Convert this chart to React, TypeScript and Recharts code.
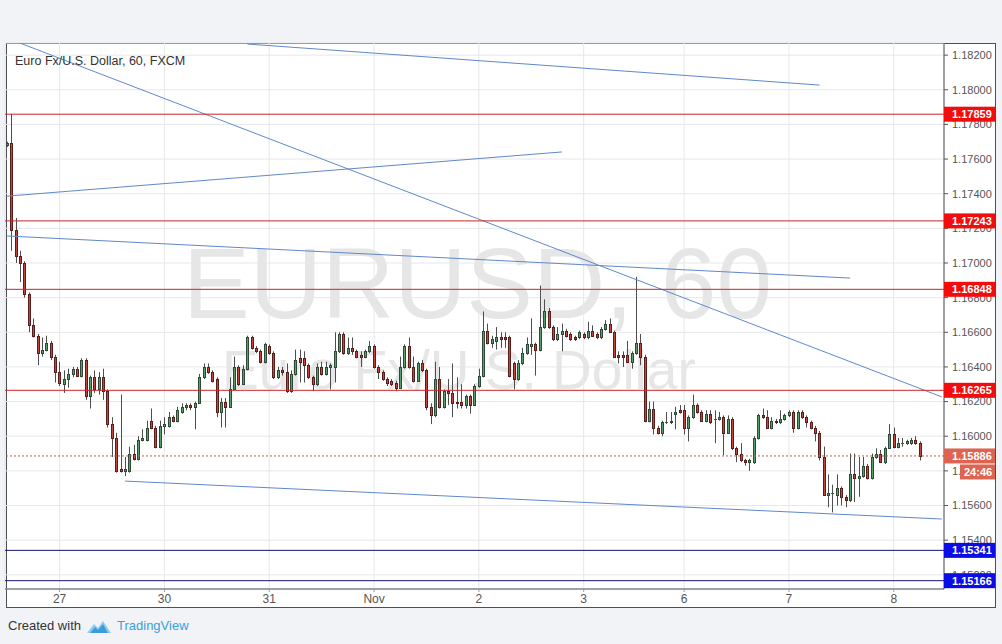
import { Bar, CartesianGrid, ComposedChart, ReferenceLine, XAxis, YAxis } from "recharts";

// EUR/USD hourly bars (FXCM): [open, high, low, close]
const candles: [number, number, number, number][] = [
  [1.1768, 1.1770, 1.1767, 1.1769],
  [1.1769, 1.1786, 1.1707, 1.1719],
  [1.1719, 1.1726, 1.1700, 1.1704],
  [1.1704, 1.1707, 1.1689, 1.1700],
  [1.1700, 1.1701, 1.1680, 1.1682],
  [1.1682, 1.1683, 1.1660, 1.1664],
  [1.1664, 1.1668, 1.1657, 1.1658],
  [1.1658, 1.1659, 1.1641, 1.1648],
  [1.1648, 1.1657, 1.1646, 1.1650],
  [1.1650, 1.1658, 1.1649, 1.1654],
  [1.1654, 1.1655, 1.1644, 1.1646],
  [1.1646, 1.1647, 1.1631, 1.1637],
  [1.1637, 1.1643, 1.1629, 1.1631],
  [1.1630, 1.1638, 1.1625, 1.1633],
  [1.1633, 1.1639, 1.1628, 1.1636],
  [1.1636, 1.1640, 1.1634, 1.1639],
  [1.1639, 1.1640, 1.1635, 1.1635],
  [1.1635, 1.1645, 1.1634, 1.1644],
  [1.1644, 1.1645, 1.1621, 1.1623],
  [1.1623, 1.1635, 1.1616, 1.1634],
  [1.1634, 1.1638, 1.1625, 1.1627],
  [1.1627, 1.1637, 1.1624, 1.1634],
  [1.1634, 1.1639, 1.1621, 1.1626],
  [1.1626, 1.1627, 1.1605, 1.1607],
  [1.1607, 1.1611, 1.1588, 1.1599],
  [1.1599, 1.1602, 1.1579, 1.1580],
  [1.1581, 1.1624, 1.1579, 1.1580],
  [1.1580, 1.1588, 1.1577, 1.1581],
  [1.1580, 1.1594, 1.1579, 1.1590],
  [1.1590, 1.1595, 1.1586, 1.1587],
  [1.1587, 1.1600, 1.1586, 1.1598],
  [1.1598, 1.1604, 1.1597, 1.1599],
  [1.1598, 1.1609, 1.1597, 1.1605],
  [1.1609, 1.1616, 1.1604, 1.1605],
  [1.1605, 1.1606, 1.1593, 1.1594],
  [1.1594, 1.1609, 1.1593, 1.1606],
  [1.1606, 1.1611, 1.1601, 1.1607],
  [1.1606, 1.1614, 1.1605, 1.1611],
  [1.1611, 1.1612, 1.1608, 1.1609],
  [1.1609, 1.1617, 1.1608, 1.1615],
  [1.1614, 1.1619, 1.1613, 1.1617],
  [1.1617, 1.1619, 1.1615, 1.1618],
  [1.1618, 1.1619, 1.1615, 1.1617],
  [1.1617, 1.1620, 1.1604, 1.1619],
  [1.1619, 1.1636, 1.1619, 1.1634],
  [1.1634, 1.1642, 1.1633, 1.1640],
  [1.1640, 1.1642, 1.1636, 1.1637],
  [1.1637, 1.1638, 1.1631, 1.1632],
  [1.1633, 1.1634, 1.1611, 1.1614],
  [1.1614, 1.1622, 1.1605, 1.1620],
  [1.1620, 1.1622, 1.1605, 1.1617],
  [1.1617, 1.1634, 1.1617, 1.1627],
  [1.1627, 1.1646, 1.1627, 1.1640],
  [1.1640, 1.1641, 1.1629, 1.1630],
  [1.1630, 1.1641, 1.1630, 1.1639],
  [1.1639, 1.1658, 1.1638, 1.1657],
  [1.1657, 1.1658, 1.1650, 1.1651],
  [1.1651, 1.1652, 1.1648, 1.1649],
  [1.1649, 1.1650, 1.1642, 1.1643],
  [1.1643, 1.1654, 1.1642, 1.1653],
  [1.1652, 1.1653, 1.1647, 1.1648],
  [1.1648, 1.1649, 1.1633, 1.1634],
  [1.1634, 1.1640, 1.1633, 1.1638],
  [1.1638, 1.1640, 1.1635, 1.1637],
  [1.1637, 1.1642, 1.1625, 1.1626],
  [1.1626, 1.1638, 1.1625, 1.1636],
  [1.1636, 1.1650, 1.1635, 1.1644],
  [1.1645, 1.1650, 1.1631, 1.1643],
  [1.1645, 1.1649, 1.1631, 1.1641],
  [1.1641, 1.1642, 1.1633, 1.1634],
  [1.1634, 1.1635, 1.1626, 1.1630],
  [1.1630, 1.1642, 1.1629, 1.1640],
  [1.1640, 1.1643, 1.1635, 1.1636],
  [1.1636, 1.1643, 1.1635, 1.1640],
  [1.1640, 1.1642, 1.1627, 1.1641],
  [1.1640, 1.1660, 1.1631, 1.1649],
  [1.1649, 1.1660, 1.1648, 1.1659],
  [1.1659, 1.1660, 1.1647, 1.1648],
  [1.1648, 1.1657, 1.1647, 1.1651],
  [1.1651, 1.1657, 1.1647, 1.1649],
  [1.1649, 1.1650, 1.1645, 1.1646],
  [1.1647, 1.1649, 1.1640, 1.1646],
  [1.1646, 1.1650, 1.1645, 1.1649],
  [1.1649, 1.1655, 1.1648, 1.1652],
  [1.1652, 1.1653, 1.1639, 1.1640],
  [1.1640, 1.1641, 1.1633, 1.1637],
  [1.1637, 1.1638, 1.1632, 1.1633],
  [1.1633, 1.1634, 1.1629, 1.1631],
  [1.1632, 1.1633, 1.1629, 1.1630],
  [1.1631, 1.1632, 1.1626, 1.1628],
  [1.1628, 1.1646, 1.1628, 1.1640],
  [1.1640, 1.1653, 1.1639, 1.1652],
  [1.1652, 1.1657, 1.1639, 1.1640],
  [1.1640, 1.1646, 1.1631, 1.1632],
  [1.1632, 1.1643, 1.1632, 1.1642],
  [1.1642, 1.1644, 1.1637, 1.1638],
  [1.1638, 1.1639, 1.1615, 1.1617],
  [1.1617, 1.1619, 1.1607, 1.1612],
  [1.1612, 1.1643, 1.1611, 1.1633],
  [1.1633, 1.1640, 1.1616, 1.1617],
  [1.1617, 1.1627, 1.1616, 1.1626],
  [1.1626, 1.1633, 1.1618, 1.1625],
  [1.1625, 1.1642, 1.1611, 1.1619],
  [1.1620, 1.1634, 1.1616, 1.1619],
  [1.1620, 1.1630, 1.1616, 1.1618],
  [1.1618, 1.1624, 1.1616, 1.1623],
  [1.1623, 1.1624, 1.1613, 1.1618],
  [1.1618, 1.1630, 1.1618, 1.1629],
  [1.1629, 1.1639, 1.1628, 1.1635],
  [1.1635, 1.1672, 1.1634, 1.1661],
  [1.1661, 1.1665, 1.1653, 1.1654],
  [1.1654, 1.1658, 1.1651, 1.1656],
  [1.1655, 1.1663, 1.1650, 1.1657],
  [1.1657, 1.1660, 1.1651, 1.1656],
  [1.1657, 1.1660, 1.1651, 1.1656],
  [1.1657, 1.1658, 1.1634, 1.1635],
  [1.1642, 1.1643, 1.1627, 1.1633],
  [1.1633, 1.1644, 1.1632, 1.1642],
  [1.1642, 1.1651, 1.1641, 1.1648],
  [1.1648, 1.1657, 1.1647, 1.1653],
  [1.1652, 1.1668, 1.1647, 1.1653],
  [1.1653, 1.1654, 1.1635, 1.1650],
  [1.1650, 1.1687, 1.1649, 1.1663],
  [1.1663, 1.1679, 1.1662, 1.1672],
  [1.1672, 1.1674, 1.1662, 1.1663],
  [1.1663, 1.1664, 1.1655, 1.1656],
  [1.1656, 1.1663, 1.1655, 1.1659],
  [1.1659, 1.1665, 1.1649, 1.1661],
  [1.1661, 1.1662, 1.1657, 1.1658],
  [1.1659, 1.1660, 1.1655, 1.1656],
  [1.1657, 1.1658, 1.1655, 1.1656],
  [1.1657, 1.1661, 1.1656, 1.1660],
  [1.1659, 1.1660, 1.1656, 1.1657],
  [1.1657, 1.1666, 1.1656, 1.1661],
  [1.1661, 1.1664, 1.1658, 1.1658],
  [1.1659, 1.1660, 1.1656, 1.1657],
  [1.1657, 1.1663, 1.1656, 1.1662],
  [1.1662, 1.1667, 1.1661, 1.1665],
  [1.1665, 1.1668, 1.1660, 1.1660],
  [1.1660, 1.1661, 1.1646, 1.1646],
  [1.1647, 1.1649, 1.1642, 1.1646],
  [1.1647, 1.1649, 1.1640, 1.1646],
  [1.1647, 1.1655, 1.1643, 1.1643],
  [1.1643, 1.1649, 1.1639, 1.1648],
  [1.1648, 1.1692, 1.1647, 1.1654],
  [1.1654, 1.1659, 1.1641, 1.1646],
  [1.1646, 1.1647, 1.1608, 1.1609],
  [1.1609, 1.1620, 1.1608, 1.1616],
  [1.1616, 1.1620, 1.1601, 1.1605],
  [1.1605, 1.1606, 1.1601, 1.1602],
  [1.1602, 1.1609, 1.1600, 1.1608],
  [1.1608, 1.1614, 1.1607, 1.1608],
  [1.1608, 1.1614, 1.1607, 1.1609],
  [1.1613, 1.1617, 1.1604, 1.1614],
  [1.1615, 1.1618, 1.1613, 1.1614],
  [1.1615, 1.1618, 1.1601, 1.1605],
  [1.1605, 1.1612, 1.1597, 1.1611],
  [1.1611, 1.1624, 1.1610, 1.1618],
  [1.1618, 1.1619, 1.1613, 1.1614],
  [1.1614, 1.1615, 1.1609, 1.1609],
  [1.1609, 1.1615, 1.1608, 1.1613],
  [1.1613, 1.1615, 1.1607, 1.1608],
  [1.1610, 1.1615, 1.1596, 1.1610],
  [1.1610, 1.1614, 1.1609, 1.1611],
  [1.1611, 1.1612, 1.1589, 1.1602],
  [1.1602, 1.1612, 1.1602, 1.1610],
  [1.1610, 1.1611, 1.1592, 1.1593],
  [1.1593, 1.1594, 1.1585, 1.1590],
  [1.1590, 1.1596, 1.1585, 1.1586],
  [1.1586, 1.1587, 1.1583, 1.1585],
  [1.1585, 1.1587, 1.1580, 1.1586],
  [1.1585, 1.1600, 1.1584, 1.1599],
  [1.1599, 1.1613, 1.1598, 1.1612],
  [1.1612, 1.1616, 1.1610, 1.1611],
  [1.1611, 1.1615, 1.1605, 1.1605],
  [1.1605, 1.1611, 1.1604, 1.1609],
  [1.1609, 1.1610, 1.1607, 1.1608],
  [1.1608, 1.1615, 1.1607, 1.1610],
  [1.1610, 1.1613, 1.1609, 1.1612],
  [1.1612, 1.1615, 1.1611, 1.1614],
  [1.1614, 1.1615, 1.1602, 1.1605],
  [1.1605, 1.1615, 1.1604, 1.1614],
  [1.1614, 1.1615, 1.1610, 1.1611],
  [1.1611, 1.1612, 1.1605, 1.1608],
  [1.1608, 1.1609, 1.1604, 1.1605],
  [1.1605, 1.1606, 1.1597, 1.1602],
  [1.1602, 1.1603, 1.1586, 1.1588],
  [1.1588, 1.1594, 1.1566, 1.1566],
  [1.1566, 1.1578, 1.1559, 1.1567],
  [1.1567, 1.1572, 1.1556, 1.1567],
  [1.1566, 1.1578, 1.1560, 1.1570],
  [1.1570, 1.1571, 1.1560, 1.1565],
  [1.1565, 1.1566, 1.1559, 1.1563],
  [1.1563, 1.1590, 1.1562, 1.1578],
  [1.1578, 1.1590, 1.1562, 1.1576],
  [1.1576, 1.1588, 1.1565, 1.1577],
  [1.1577, 1.1588, 1.1576, 1.1583],
  [1.1583, 1.1584, 1.1575, 1.1576],
  [1.1576, 1.1590, 1.1575, 1.1588],
  [1.1588, 1.1593, 1.1587, 1.1590],
  [1.1590, 1.1592, 1.1585, 1.1585],
  [1.1585, 1.1594, 1.1584, 1.1593],
  [1.1593, 1.1607, 1.1593, 1.1601],
  [1.1601, 1.1605, 1.1593, 1.1594],
  [1.1594, 1.1599, 1.1593, 1.1596],
  [1.1596, 1.1599, 1.1594, 1.1596],
  [1.1596, 1.1598, 1.1595, 1.1597],
  [1.1596, 1.1599, 1.1595, 1.1598],
  [1.1598, 1.1600, 1.1595, 1.1596],
  [1.1596, 1.1597, 1.1586, 1.15886],
];

// 215 hourly slots on the time scale, the last few are empty space
const SLOTS = 215;

const dayLabels = [
  { index: 12, label: "27" },
  { index: 36, label: "30" },
  { index: 60, label: "31" },
  { index: 84, label: "Nov" },
  { index: 108, label: "2" },
  { index: 132, label: "3" },
  { index: 155, label: "6" },
  { index: 179, label: "7" },
  { index: 203, label: "8" },
];

const priceTicks = [
  1.152, 1.154, 1.156, 1.158, 1.16, 1.162, 1.164, 1.166, 1.168, 1.17, 1.172, 1.174, 1.176, 1.178,
  1.18, 1.182,
];
const priceDomain: [number, number] = [1.15118, 1.1827];

const redLevels = [1.17859, 1.17243, 1.16848, 1.16265];
const blueLevels = [1.15341, 1.15166];
const lastPrice = 1.15886;
const countdown = "24:46";

// hand-drawn trend lines: [slot, price] end points
const trendLines: { from: [number, number]; to: [number, number] }[] = [
  { from: [55, 1.18264], to: [186, 1.18027] },
  { from: [0, 1.18298], to: [214, 1.16227] },
  { from: [0, 1.17386], to: [127, 1.17641] },
  { from: [0, 1.17156], to: [193, 1.16913] },
  { from: [27, 1.15741], to: [214, 1.15522] },
];

const FONT = '"Liberation Sans", Arial, sans-serif';
const UP_FILL = "#57a06c";
const UP_EDGE = "#2c4a36";
const DOWN_FILL = "#c2463f";
const DOWN_EDGE = "#5a1d19";
const WICK = "#4e4e4e";
const RED_LINE = "#c8262a";
const RED_TAG = "#f20d0d";
const NAVY_LINE = "#14146e";
const BLUE_TAG = "#0c0ce6";
const LAST_TAG = "#dd6450";
const TREND = "#6088cc";
const FRAME = "#4d4f55";

const CHART_MARGIN = { top: 43, right: 7, bottom: 37, left: 5 };

const rows = Array.from({ length: SLOTS }, (_, i) => {
  const c = candles[i];
  return c
    ? { i, range: [c[2], c[1]], o: c[0], h: c[1], l: c[2], c: c[3] }
    : { i, range: null };
});

function Candle(props: any) {
  const { x, y, width, height, payload } = props;
  if (!payload || payload.o == null) return null;
  const { o, h, l, c } = payload;
  const top = Math.min(y, y + height);
  const span = Math.abs(height);
  const k = h - l > 0 ? span / (h - l) : 0;
  const yO = top + (h - o) * k;
  const yC = top + (h - c) * k;
  const cx = Math.floor(x + width / 2) + 0.5;
  const up = c >= o;
  const bTop = Math.round(Math.min(yO, yC));
  const bBot = Math.round(Math.max(yO, yC));
  return (
    <g>
      <line x1={cx} x2={cx} y1={top} y2={top + span} stroke={WICK} strokeWidth={1} />
      {bBot - bTop < 1 ? (
        <line x1={cx - 1.5} x2={cx + 1.5} y1={bTop + 0.5} y2={bTop + 0.5} stroke={WICK} />
      ) : (
        <rect
          x={cx - 1}
          y={bTop + 0.5}
          width={2}
          height={bBot - bTop}
          fill={up ? UP_FILL : DOWN_FILL}
          stroke={up ? UP_EDGE : DOWN_EDGE}
          strokeWidth={1}
        />
      )}
    </g>
  );
}

function PriceTag(props: any) {
  const { viewBox, value, fill, timer } = props;
  if (!viewBox) return null;
  const x = viewBox.x + viewBox.width;
  const y = viewBox.y;
  return (
    <g>
      <rect x={x} y={y - 7.5} width={51} height={15} fill={fill} />
      <text x={x + 8} y={y + 4} fill="#fff" fontSize={11} fontWeight="bold" fontFamily={FONT}>
        {value.toFixed(5)}
      </text>
      {timer && (
        <g>
          <rect x={x + 16} y={y + 8.5} width={35} height={15} fill={fill} />
          <text x={x + 20} y={y + 20} fill="#fff" fontSize={11} fontWeight="bold" fontFamily={FONT}>
            {timer}
          </text>
        </g>
      )}
    </g>
  );
}

function TvLogo() {
  return (
    <svg width={26} height={16} viewBox="0 0 26 16" style={{ position: "absolute", left: 86, top: 618 }}>
      <path d="M1 15 L8 6 L12 10 L17 3 L25 15 Z" fill="#8fcbef" />
      <path d="M4 15 L9 9 L12 12 L17 6 L22 15 Z" fill="#3c9ddb" />
    </svg>
  );
}

export default function App() {
  const labelFor = (v: number) => dayLabels.find((d) => d.index === v)?.label ?? "";
  return (
    <div
      style={{
        position: "absolute",
        left: 0,
        top: 0,
        width: 1002,
        height: 644,
        background: "#f1f3f6",
        fontFamily: FONT,
        overflow: "hidden",
      }}
    >
      <div
        style={{
          position: "absolute",
          left: 6,
          top: 43,
          width: 990,
          height: 565,
          boxSizing: "border-box",
          border: `1px solid ${FRAME}`,
          background: "#ffffff",
        }}
      />
      <svg width={1002} height={644} style={{ position: "absolute", left: 0, top: 0 }}>
        <text x={183} y={318} fontSize={100} fill="#e6e6e6" fontFamily={FONT}>
          EURUSD, 60
        </text>
        <text x={222} y={389} fontSize={55} fill="#e6e6e6" fontFamily={FONT}>
          Euro Fx/U.S. Dollar
        </text>
      </svg>

      {/* price panel: grid, axes, candles, trend lines */}
      <div style={{ position: "absolute", left: 0, top: 0 }}>
        <ComposedChart width={1002} height={644} data={rows} margin={CHART_MARGIN}>
          <CartesianGrid stroke="#e6e7ea" strokeWidth={1} />
          <XAxis
            dataKey="i"
            type="category"
            ticks={dayLabels.map((d) => d.index)}
            interval={0}
            tickFormatter={labelFor}
            height={18}
            tickSize={3}
            tickMargin={2}
            axisLine={{ stroke: FRAME }}
            tickLine={{ stroke: "#9a9a9a" }}
            tick={{ fontSize: 12, fill: "#555", fontFamily: FONT }}
          />
          <YAxis
            orientation="right"
            type="number"
            domain={priceDomain}
            ticks={priceTicks}
            allowDataOverflow
            width={51}
            tickSize={4}
            tickMargin={4}
            tickFormatter={(v: number) => v.toFixed(5)}
            axisLine={{ stroke: FRAME }}
            tickLine={{ stroke: "#555" }}
            tick={{ fontSize: 11, fill: "#555", fontFamily: FONT, textAnchor: "start" }}
          />
          <Bar
            dataKey="range"
            barSize={3}
            isAnimationActive={false}
            shape={(p: any) => <Candle {...p} />}
          />
          {trendLines.map((t, k) => (
            <ReferenceLine
              key={`t${k}`}
              segment={[
                { x: t.from[0], y: t.from[1] },
                { x: t.to[0], y: t.to[1] },
              ]}
              ifOverflow="hidden"
              stroke={TREND}
              strokeWidth={1}
            />
          ))}
        </ComposedChart>
      </div>

      {/* horizontal levels with their price tags, drawn above the axis labels */}
      <div style={{ position: "absolute", left: 0, top: 0 }}>
        <ComposedChart width={1002} height={644} data={rows} margin={CHART_MARGIN}>
          <XAxis
            dataKey="i"
            type="category"
            height={18}
            tick={false}
            tickLine={false}
            axisLine={false}
          />
          <YAxis
            orientation="right"
            type="number"
            domain={priceDomain}
            allowDataOverflow
            width={51}
            tick={false}
            tickLine={false}
            axisLine={false}
          />
          {redLevels.map((v) => (
            <ReferenceLine
              key={`r${v}`}
              y={v}
              stroke={RED_LINE}
              strokeWidth={1}
              label={(p: any) => <PriceTag {...p} value={v} fill={RED_TAG} />}
            />
          ))}
          {blueLevels.map((v) => (
            <ReferenceLine
              key={`b${v}`}
              y={v}
              stroke={NAVY_LINE}
              strokeWidth={1}
              label={(p: any) => <PriceTag {...p} value={v} fill={BLUE_TAG} />}
            />
          ))}
          <ReferenceLine
            y={lastPrice}
            stroke="#b8604e"
            strokeDasharray="2 2"
            strokeWidth={1}
            label={(p: any) => (
              <PriceTag {...p} value={lastPrice} fill={LAST_TAG} timer={countdown} />
            )}
          />
        </ComposedChart>
      </div>

      <svg width={300} height={30} style={{ position: "absolute", left: 0, top: 48 }}>
        <text x={15} y={17} fontSize={12.5} fill="#333" fontFamily={FONT}>
          Euro Fx/U.S. Dollar, 60, FXCM
        </text>
      </svg>
      <div
        style={{
          position: "absolute",
          left: 8,
          top: 618,
          fontSize: 13,
          color: "#333",
          lineHeight: "16px",
        }}
      >
        Created with
      </div>
      <TvLogo />
      <div
        style={{
          position: "absolute",
          left: 117,
          top: 618,
          fontSize: 13,
          color: "#3b9fdc",
          lineHeight: "16px",
        }}
      >
        TradingView
      </div>
    </div>
  );
}
